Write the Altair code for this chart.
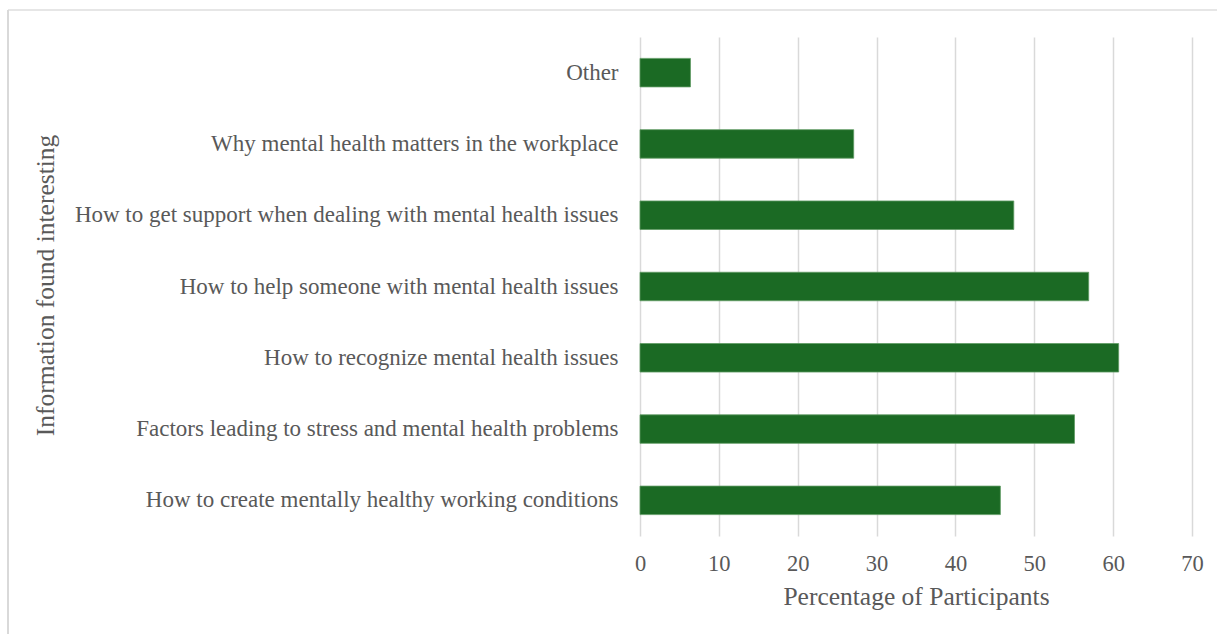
import altair as alt
import pandas as pd

categories = [
    "Other",
    "Why mental health matters in the workplace",
    "How to get support when dealing with mental health issues",
    "How to help someone with mental health issues",
    "How to recognize mental health issues",
    "Factors leading to stress and mental health problems",
    "How to create mentally healthy working conditions",
]
values = [6.4, 27.1, 47.4, 56.9, 60.7, 55.1, 45.7]

df = pd.DataFrame({"cat": categories, "val": values})

FONT = "Liberation Serif"
GRAY = "#595959"

bars = alt.Chart(df).mark_bar(color="#1b6a24", stroke="#5f9a63", strokeWidth=0.8).encode(
    x=alt.X("val:Q", scale=alt.Scale(domain=[0, 70], nice=False),
            axis=alt.Axis(values=[0, 10, 20, 30, 40, 50, 60, 70], title="Percentage of Participants",
                          grid=True, gridColor="#d9d9d9", gridWidth=1.5, domain=False, ticks=False,
                          labelFlush=False,
                          labelFont=FONT, labelFontSize=22.5, labelColor=GRAY, labelPadding=16,
                          titleFont=FONT, titleFontSize=25.5, titleColor=GRAY, titleFontWeight="normal",
                          titlePadding=10)),
    y=alt.Y("cat:N", sort=categories, scale=alt.Scale(paddingInner=0.6, paddingOuter=0.3),
            axis=alt.Axis(title="Information found interesting", domain=False, ticks=False,
                          labelFont=FONT, labelFontSize=23, labelColor=GRAY, labelPadding=22,
                          labelLimit=700,
                          titleFont=FONT, titleFontSize=25.5, titleColor=GRAY, titleFontWeight="normal",
                          titleX=-595, titleY=248, titleAngle=-90, titleBaseline="middle")),
)

border_v = alt.Chart(df).mark_rule(color="#d9d9d9", strokeWidth=2, clip=False).encode(
    x=alt.value(-632), y=alt.value(-27), y2=alt.value(600))
border_h = alt.Chart(df).mark_rule(color="#e6e6e6", strokeWidth=1.5, clip=False).encode(
    x=alt.value(-632), x2=alt.value(580), y=alt.value(-27))

chart = alt.layer(border_h, border_v, bars).properties(
    width=552, height=499,
    autosize=alt.AutoSizeParams(type="none"),
    padding={"left": 640, "top": 37, "right": 25, "bottom": 98},
    background="white",
).configure_view(stroke=None)

chart.save("out.html", embed_options={"renderer": "svg", "actions": False})
